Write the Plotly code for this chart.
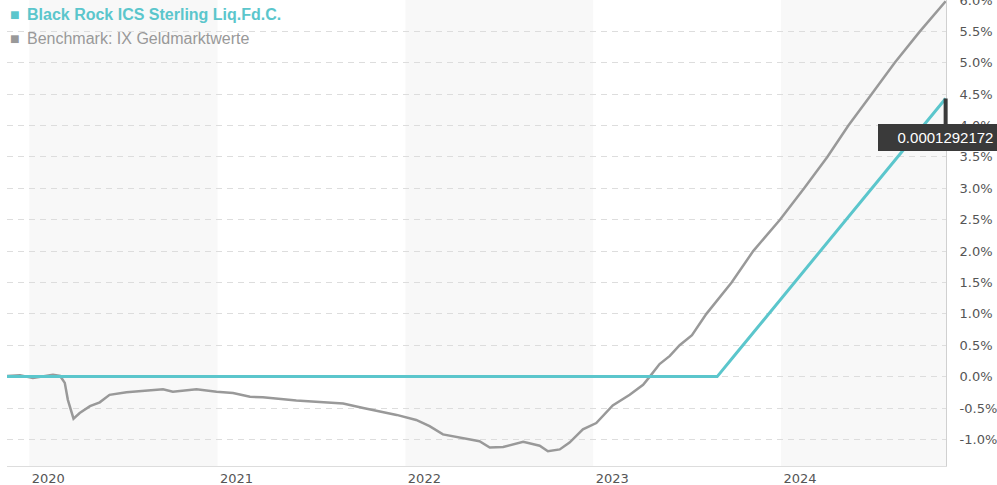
import plotly.graph_objects as go

# ---------------- data ----------------
fund_name = "Black Rock ICS Sterling Liq.Fd.C."
bench_name = "Benchmark: IX Geldmarktwerte"

bench_dates = [
    "2019-11-18", "2019-12-14", "2020-01-08", "2020-02-16", "2020-03-01", "2020-03-10",
    "2020-03-16", "2020-03-22", "2020-03-27", "2020-04-08", "2020-04-28", "2020-05-17",
    "2020-06-05", "2020-07-08", "2020-08-03", "2020-09-17", "2020-10-06", "2020-11-21",
    "2020-12-30", "2021-01-31", "2021-03-05", "2021-03-30", "2021-06-03", "2021-08-07",
    "2021-09-02", "2021-10-11", "2021-11-12", "2021-12-15", "2022-01-22", "2022-02-17",
    "2022-03-15", "2022-04-10", "2022-04-29", "2022-05-25", "2022-06-14", "2022-07-10",
    "2022-08-18", "2022-09-19", "2022-10-05", "2022-10-28", "2022-11-16", "2022-12-12",
    "2023-01-07", "2023-02-08", "2023-03-13", "2023-04-08", "2023-04-21", "2023-05-10",
    "2023-05-30", "2023-06-18", "2023-07-12", "2023-08-09", "2023-09-27", "2023-11-08",
    "2023-12-30", "2024-02-15", "2024-03-31", "2024-05-11", "2024-06-25", "2024-08-09",
    "2024-09-27", "2024-11-16",
]
bench_values = [
    0.01, 0.02, -0.02, 0.03, 0.01, -0.10,
    -0.37, -0.55, -0.67, -0.58, -0.47, -0.41,
    -0.29, -0.25, -0.23, -0.20, -0.24, -0.20,
    -0.24, -0.26, -0.32, -0.33, -0.38, -0.41,
    -0.43, -0.50, -0.55, -0.61, -0.69, -0.79,
    -0.92, -0.96, -0.99, -1.03, -1.13, -1.12,
    -1.04, -1.10, -1.19, -1.16, -1.05, -0.84,
    -0.74, -0.46, -0.29, -0.13, 0.00, 0.20,
    0.33, 0.50, 0.66, 1.00, 1.50, 2.00,
    2.50, 3.00, 3.50, 4.00, 4.50, 5.00,
    5.50, 5.98,
]

fund_dates = [
    "2019-11-18", "2023-08-30", "2023-10-01", "2023-11-01", "2023-12-01", "2024-01-01",
    "2024-02-01", "2024-03-01", "2024-04-01", "2024-05-01", "2024-06-01", "2024-07-01",
    "2024-08-01", "2024-09-01", "2024-10-01", "2024-11-01", "2024-11-16",
]
fund_values = [
    0.00, 0.00, 0.32, 0.63, 0.93, 1.24,
    1.55, 1.84, 2.15, 2.45, 2.76, 3.06,
    3.37, 3.68, 3.98, 4.29, 4.43,
]

year_ticks = ["2020-01-01", "2021-01-01", "2022-01-01", "2023-01-01", "2024-01-01"]
year_labels = ["2020", "2021", "2022", "2023", "2024"]
shaded_years = [2020, 2022, 2024]
y_ticks = [-1.0, -0.5, 0.0, 0.5, 1.0, 1.5, 2.0, 2.5, 3.0, 3.5, 4.0, 4.5, 5.0, 5.5, 6.0]
tooltip_text = "0.0001292172"

# ---------------- style ----------------
TEAL = "#5bc6cc"
GREY = "#999999"
TICK_FONT = dict(family="DejaVu Sans", size=13, color="#555555")

fig = go.Figure()
fig.add_trace(go.Scatter(x=bench_dates, y=bench_values, mode="lines",
                         line=dict(color=GREY, width=2.5), name=bench_name,
                         hoverinfo="skip"))
fig.add_trace(go.Scatter(x=fund_dates, y=fund_values, mode="lines",
                         line=dict(color=TEAL, width=3), name=fund_name,
                         hoverinfo="skip"))

for yr in shaded_years:
    fig.add_shape(type="rect", xref="x", yref="paper",
                  x0=f"{yr}-01-01", x1=f"{yr + 1}-01-01", y0=0, y1=1,
                  fillcolor="#f8f8f8", line=dict(width=0), layer="below")

# legend (custom, as in the source chart)
legend_rows = [(fund_name, TEAL, True, -14), (bench_name, GREY, False, -38)]
for text, col, bold, ysh in legend_rows:
    fig.add_annotation(xref="paper", yref="paper", x=0, y=1, xshift=1, yshift=ysh,
                       xanchor="left", yanchor="middle", showarrow=False,
                       text="■", font=dict(family="Liberation Sans", size=16, color=col))
    fig.add_annotation(xref="paper", yref="paper", x=0, y=1, xshift=18, yshift=ysh,
                       xanchor="left", yanchor="middle", showarrow=False,
                       text=f"<b>{text}</b>" if bold else text,
                       font=dict(family="Liberation Sans", size=16, color=col))

# tooltip at last fund point
fig.add_annotation(x=fund_dates[-1], y=fund_values[-1], xref="x", yref="y",
                   text=tooltip_text, showarrow=True, arrowhead=0, arrowwidth=4,
                   arrowcolor="#3a3a3a", ax=0, ay=39, standoff=0,
                   bgcolor="#3a3a3a", borderpad=5, borderwidth=0, width=125, align="center",
                   font=dict(family="Liberation Sans", size=15, color="#ffffff"))

fig.update_layout(
    width=997, height=485,
    margin=dict(l=7, r=51, t=0, b=19),
    paper_bgcolor="white", plot_bgcolor="white",
    showlegend=False,
    xaxis=dict(type="date", range=["2019-11-18 17:00", "2024-11-16 17:00"],
               tickvals=year_ticks, ticktext=year_labels, ticks="",
               ticklabelshift=19, tickfont=TICK_FONT, automargin=False,
               showgrid=False, zeroline=False,
               showline=True, linecolor="#dddddd", linewidth=1),
    yaxis=dict(side="right", range=[-1.424, 6.0],
               tickvals=y_ticks, ticktext=[f"{v:.1f}%" for v in y_ticks],
               ticks="", ticklabelstandoff=10, tickfont=TICK_FONT, automargin=False,
               ticklabeloverflow="allow",
               showgrid=True, gridcolor="#dddddd", griddash="6px,5px", gridwidth=1,
               zeroline=False, showline=True, linecolor="#d0d0d0", linewidth=1),
)

fig.write_html("out.html", config={"displayModeBar": False},
               post_script="document.body.style.margin='0';")
